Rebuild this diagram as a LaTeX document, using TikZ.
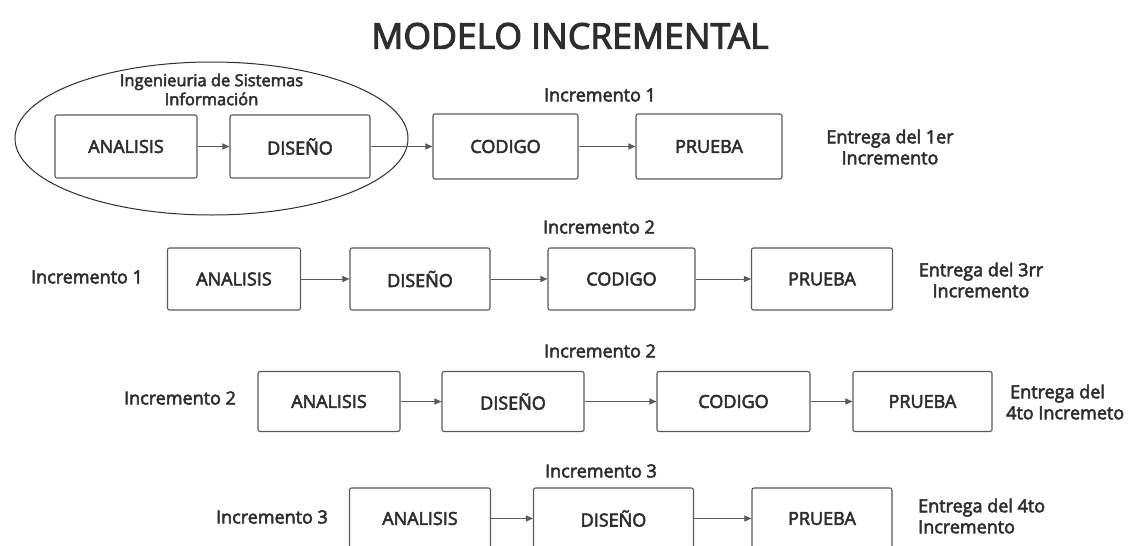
\documentclass[tikz,border=0pt]{standalone}
\usepackage{fontspec}
\setmainfont{Open Sans}
\newfontfamily\heavier{Open Sans}[FakeBold=3]
\usetikzlibrary{arrows.meta,shapes.geometric}
\definecolor{ink}{HTML}{2E2E2E}
\definecolor{edge}{HTML}{5A5A5A}
\begin{document}
\begin{tikzpicture}[x=1pt,y=-1pt,
  stage/.style={draw=edge,line width=1.1pt,rounded corners=2pt,text=ink,
    font=\heavier\fontsize{18}{20}\selectfont,inner sep=0pt},
  lbl/.style={text=ink,font=\heavier\fontsize{18}{21}\selectfont,inner sep=0pt,align=center},
  flow/.style={draw=edge,line width=1pt,-{Triangle[length=7pt,width=6pt]}}]
\useasboundingbox (0,0) rectangle (1138,546);
\clip (0,0) rectangle (1138,546);
\fill[white] (0,0) rectangle (1138,546);

% title
\node[text=ink,font=\heavier\fontsize{35.5}{40}\selectfont,inner sep=0pt] (title) at (570,36) {MODELO INCREMENTAL};

% first increment, analysis and design grouped
\node[draw=ink,line width=1pt,ellipse,minimum width=393,minimum height=153,inner sep=0pt] (group) at (211.5,138.5) {};
\node[lbl,font=\heavier\fontsize{16.5}{19}\selectfont] (grouplbl) at (211.5,89.5) {Ingenieuria de Sistemas\\Información};
\node[stage,minimum width=142,minimum height=63] (a1) at (126,146.5) {ANALISIS};
\node[stage,minimum width=140,minimum height=63] (d1) at (300,146.5) {DISEÑO};
\node[stage,minimum width=145,minimum height=65] (c1) at (505.5,146.5) {CODIGO};
\node[stage,minimum width=146,minimum height=65] (p1) at (709,146.5) {PRUEBA};
\node[lbl] (t1) at (600,95) {Incremento 1};
\node[lbl] (e1) at (890,147) {Entrega del 1er\\Incremento};
\draw[flow] (a1) -- (d1);
\draw[flow] (d1) -- (c1);
\draw[flow] (c1) -- (p1);

% second row
\node[stage,minimum width=133,minimum height=62] (a2) at (234,279) {ANALISIS};
\node[stage,minimum width=140,minimum height=62] (d2) at (420,279) {DISEÑO};
\node[stage,minimum width=147,minimum height=62] (c2) at (621.5,279) {CODIGO};
\node[stage,minimum width=141,minimum height=62] (p2) at (822,279) {PRUEBA};
\node[lbl] (s2) at (87,277) {Incremento 1};
\node[lbl] (t2) at (599,227) {Incremento 2};
\node[lbl] (e2) at (981,280) {Entrega del 3rr\\Incremento};
\draw[flow] (a2) -- (d2);
\draw[flow] (d2) -- (c2);
\draw[flow] (c2) -- (p2);

% third row
\node[stage,minimum width=142,minimum height=60] (a3) at (329,401.5) {ANALISIS};
\node[stage,minimum width=142,minimum height=60] (d3) at (513,401.5) {DISEÑO};
\node[stage,minimum width=153,minimum height=60] (c3) at (733.5,401.5) {CODIGO};
\node[stage,minimum width=139,minimum height=60] (p3) at (922.5,401.5) {PRUEBA};
\node[lbl] (s3) at (180,398) {Incremento 2};
\node[lbl] (t3) at (600,351) {Incremento 2};
\node[lbl,align=left,anchor=west] (e3) at (1006,402) {\hspace*{4pt}Entrega del\\4to Incremeto};
\draw[flow] (a3) -- (d3);
\draw[flow] (d3) -- (c3);
\draw[flow] (c3) -- (p3);

% fourth row
\node[stage,minimum width=141,minimum height=61] (a4) at (420,518.5) {ANALISIS};
\node[stage,minimum width=160,minimum height=61] (d4) at (613.5,518.5) {DISEÑO};
\node[stage,minimum width=140,minimum height=61] (p4) at (822,518.5) {PRUEBA};
\node[lbl] (s4) at (272,517) {Incremento 3};
\node[lbl] (t4) at (601,471) {Incremento 3};
\node[lbl,align=left,anchor=west] (e4) at (918,516) {Entrega del 4to\\Incremento};
\draw[flow] (a4) -- (d4);
\draw[flow] (d4) -- (p4);
\end{tikzpicture}
\end{document}
